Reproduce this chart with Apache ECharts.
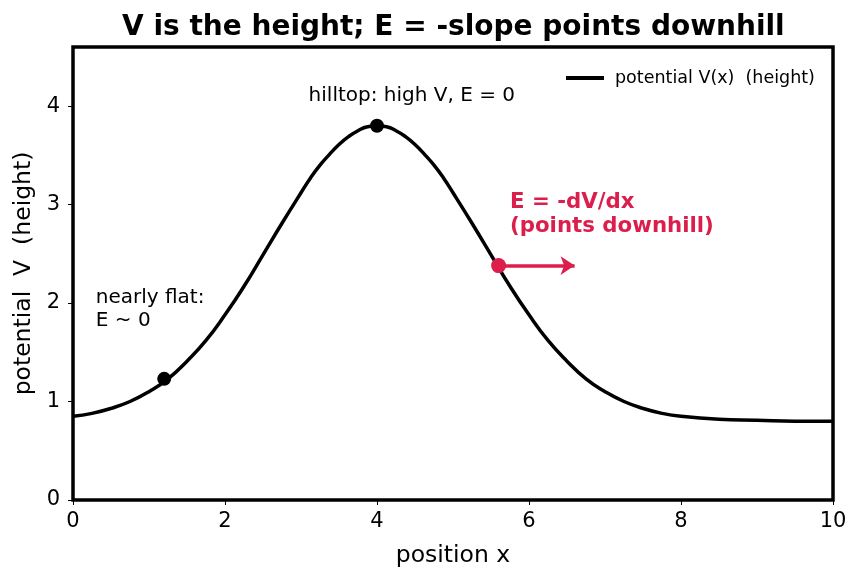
<!DOCTYPE html>
<html>
<head>
<meta charset="utf-8">
<script src="https://cdn.jsdelivr.net/npm/echarts@6/dist/echarts.min.js"></script>
<style>
  html, body { margin: 0; padding: 0; background: #fff; }
  #chart { width: 861px; height: 581px; }
</style>
</head>
<body>
<div id="chart"></div>
<script>
// values
var xs = [0, 0.25, 0.5, 0.75, 1, 1.25, 1.5, 1.75, 2, 2.25, 2.5, 2.75, 3, 3.125, 3.25, 3.375, 3.5, 3.625, 3.75, 3.875, 4,
          4.125, 4.25, 4.375, 4.5, 4.625, 4.75, 4.875, 5, 5.25, 5.5, 5.75, 6, 6.25, 6.5, 6.75, 7, 7.25, 7.5, 7.75, 8,
          8.5, 9, 9.5, 10];
var potential = [0.85, 0.88, 0.93, 1.00, 1.10, 1.23, 1.41, 1.62, 1.88, 2.17, 2.49, 2.81, 3.12, 3.27, 3.40, 3.51, 3.61, 3.69, 3.75, 3.79, 3.80,
                 3.79, 3.75, 3.69, 3.61, 3.51, 3.40, 3.27, 3.12, 2.81, 2.49, 2.17, 1.88, 1.62, 1.41, 1.23, 1.10, 1.00, 0.93, 0.88, 0.85,
                 0.82, 0.81, 0.80, 0.80];
var blackDots = [[1.2, 1.23], [4, 3.8]];
var redDot = [5.6, 2.38];
var arrowEnd = [6.6, 2.38];
var xTicks = [0, 2, 4, 6, 8, 10];
var yTicks = [0, 1, 2, 3, 4];
var notes = [
  [3.1, 4.1, 'hilltop: high V, E = 0'],
  [0.3, 1.94, 'nearly flat:\nE ~ 0']
];
var redNote = [5.75, 2.90, 'E = -dV/dx\n(points downhill)'];

var RED = '#dc1e4c';
var FONT = 'DejaVu Sans';

var chart = echarts.init(document.getElementById('chart'));

var curve = xs.map(function (x, i) { return [x, potential[i]]; });

var noteLabel = function (extra) {
  return Object.assign({
    show: true,
    position: [0, 0],
    align: 'left',
    verticalAlign: 'middle',
    formatter: function (p) { return p.value[2]; },
    fontFamily: FONT,
    fontSize: 20,
    lineHeight: 23,
    color: '#000'
  }, extra || {});
};

chart.setOption({
  animation: false,
  backgroundColor: '#fff',
  textStyle: { fontFamily: FONT },
  title: {
    text: 'V is the height; E = -slope points downhill',
    left: 117,
    top: 9,
    textStyle: { fontFamily: FONT, fontSize: 28, fontWeight: 'bold', color: '#000' }
  },
  legend: {
    data: [{ name: 'potential V(x)  (height)', icon: 'rect' }],
    left: 561,
    top: 64,
    itemWidth: 38,
    itemHeight: 4,
    textStyle: { fontFamily: FONT, fontSize: 17.5, color: '#000', padding: [0, 0, 0, 6] }
  },
  grid: {
    left: 73, right: 28, top: 47, bottom: 81,
    show: true,
    borderColor: '#000',
    borderWidth: 3.5,
    z: 10
  },
  xAxis: {
    type: 'value',
    min: 0, max: 10, interval: 2,
    name: 'position x',
    nameLocation: 'middle',
    nameGap: 44,
    nameTextStyle: { fontFamily: FONT, fontSize: 23.5, color: '#000' },
    axisLine: { show: false },
    axisTick: { show: true, length: 5, lineStyle: { color: '#000', width: 1 }, customValues: xTicks },
    axisLabel: { fontFamily: FONT, fontSize: 21, color: '#000', margin: 11, customValues: xTicks },
    splitLine: { show: false }
  },
  yAxis: {
    type: 'value',
    min: 0, max: 4.6, interval: 1,
    name: 'potential  V  (height)',
    nameLocation: 'middle',
    nameGap: 36,
    nameTextStyle: { fontFamily: FONT, fontSize: 23.5, color: '#000' },
    axisLine: { show: false },
    axisTick: { show: true, length: 5, lineStyle: { color: '#000', width: 1 }, customValues: yTicks },
    axisLabel: { fontFamily: FONT, fontSize: 21, color: '#000', margin: 13, customValues: yTicks },
    splitLine: { show: false }
  },
  series: [
    {
      name: 'potential V(x)  (height)',
      type: 'line',
      data: curve,
      smooth: true,
      symbol: 'none',
      lineStyle: { color: '#000', width: 3.5 },
      itemStyle: { color: '#000' },
      z: 3
    },
    {
      name: 'marks',
      type: 'scatter',
      data: blackDots,
      symbolSize: 14,
      itemStyle: { color: '#000', opacity: 1 },
      z: 5
    },
    {
      name: 'slope',
      type: 'scatter',
      data: [redDot],
      symbolSize: 15,
      itemStyle: { color: RED, opacity: 1 },
      z: 6,
      markLine: {
        silent: true,
        symbol: ['none', 'arrow'],
        symbolSize: [14, 14],
        label: { show: false },
        lineStyle: { color: RED, width: 3.5, type: 'solid', opacity: 1 },
        data: [[{ coord: redDot }, { coord: arrowEnd }]]
      }
    },
    {
      name: 'notes',
      type: 'scatter',
      data: notes,
      symbolSize: 0,
      silent: true,
      itemStyle: { opacity: 1 },
      label: noteLabel()
    },
    {
      name: 'redNote',
      type: 'scatter',
      data: [redNote],
      symbolSize: 0,
      silent: true,
      itemStyle: { opacity: 1 },
      label: noteLabel({ color: RED, fontWeight: 'bold', fontSize: 21.3, lineHeight: 24 })
    }
  ]
});
</script>
</body>
</html>
